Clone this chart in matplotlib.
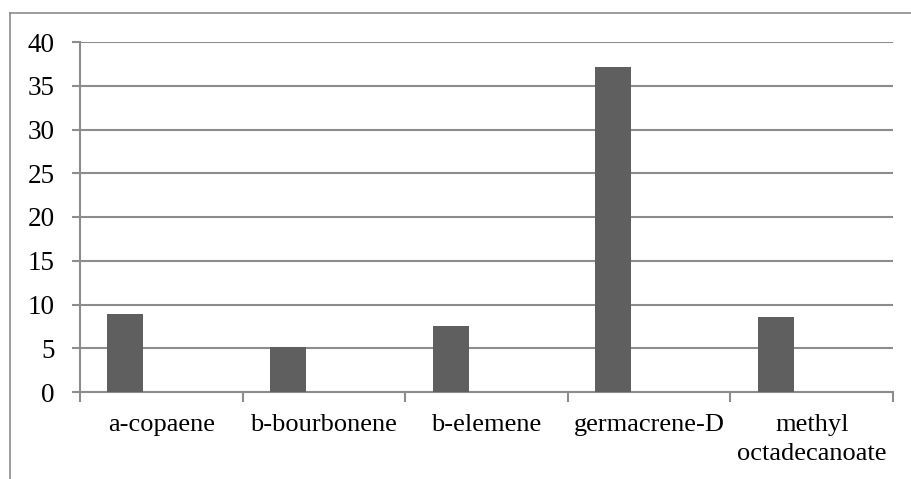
import matplotlib
matplotlib.use("Agg")
import matplotlib.pyplot as plt
from matplotlib.lines import Line2D
import numpy as np

categories = ["a-copaene", "b-bourbonene", "b-elemene", "germacrene-D", "methyl\noctadecanoate"]
values = [8.9, 5.1, 7.5, 37.2, 8.6]
yticks = [0, 5, 10, 15, 20, 25, 30, 35, 40]

plt.rcParams['font.family'] = ['Liberation Serif', 'DejaVu Serif']

W, H = 911, 479
fig = plt.figure(figsize=(W/100, H/100), dpi=100)
ax = fig.add_axes([80/W, (H-392)/H, (893-80)/W, (392-42)/H])

gray = "#8c8c8c"
x = np.arange(len(categories))
bw = 36/162.6
ax.bar(x - bw, values, width=bw, color="#5f5f5f", zorder=3)

ax.set_xlim(-0.5, len(categories)-0.5)
ax.set_ylim(0, 40)
ax.set_yticks(yticks)
ax.set_yticklabels([str(t) for t in yticks])
ax.yaxis.grid(True, color=gray, linewidth=1.5, zorder=0)
ax.set_axisbelow(True)

ax.set_xticks(np.arange(-0.5, len(categories), 1.0))
ax.set_xticklabels([])
ax.set_xticks(x, minor=True)
ax.set_xticklabels(categories, minor=True, fontsize=19, linespacing=1.4)
ax.tick_params(axis='x', which='major', direction='out', length=7, width=1.5, color=gray)
ax.tick_params(axis='x', which='minor', length=0, pad=16)
ax.tick_params(axis='y', direction='out', length=6, width=1.5, color=gray, labelsize=19.5, pad=12)

for s in ['top', 'right']:
    ax.spines[s].set_visible(False)
for s in ['left', 'bottom']:
    ax.spines[s].set_color(gray)
    ax.spines[s].set_linewidth(1.5)

# figure border (left and top)
fig.add_artist(Line2D([10/W, 10/W], [0, (H-13)/H], color=gray, linewidth=1.2, transform=fig.transFigure))
fig.add_artist(Line2D([10/W, 1.0], [(H-13)/H, (H-13)/H], color=gray, linewidth=1.2, transform=fig.transFigure))

fig.savefig("out.png", dpi=100)
